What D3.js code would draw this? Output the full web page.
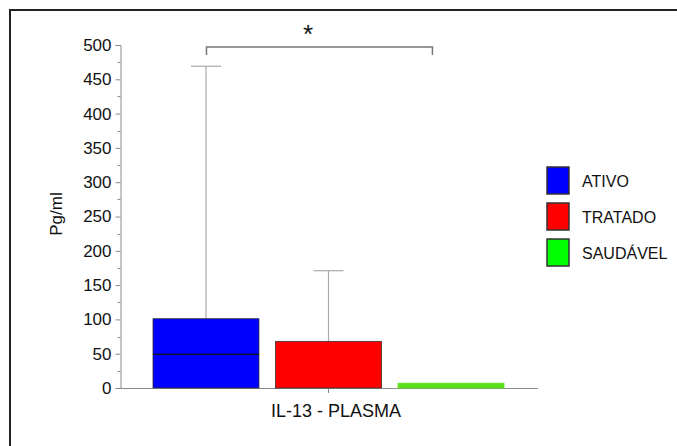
<!DOCTYPE html>
<html>
<head>
<meta charset="utf-8">
<script src="https://cdn.jsdelivr.net/npm/d3@7"></script>
<style>
    body { margin: 0; background: #fff; }
    text { font-family: "Liberation Sans", Arial, sans-serif; fill: #111; }
</style>
</head>
<body>
<div id="chart"></div>
<script>
// IL-13 plasma values (pg/ml)
var groups = ["ATIVO", "TRATADO", "SAUDÁVEL"];
var colors = ["#0000ff", "#ff0000", "#00ff00"];
var barColors = ["#0000ff", "#ff0000", "#5ce01c"];
var upper = [101, 68, 7];
var median = [49, null, null];
var whiskerMax = [469, 171, null];
var yTicks = [0, 50, 100, 150, 200, 250, 300, 350, 400, 450, 500];
var minorTicks = d3.range(25, 500, 50);
var categoryLabel = "IL-13 - PLASMA";
var sigPair = ["ATIVO", "SAUDÁVEL"];

var width = 677, height = 446;

var svg = d3.select("#chart").append("svg")
    .attr("width", width)
    .attr("height", height);

// outer frame
svg.append("rect")
    .attr("x", 10)
    .attr("y", 10)
    .attr("width", 700)
    .attr("height", 500)
    .attr("fill", "none")
    .attr("stroke", "#222")
    .attr("stroke-width", 2);

var y = d3.scaleLinear()
    .domain([0, 500])
    .range([388, 45]);

var x = d3.scaleBand()
    .domain(groups)
    .range([153, 504])
    .paddingInner(0.135);

var axisColor = "#8c8c8c";

// y axis
var yAxis = svg.append("g")
    .attr("transform", "translate(120.5,0)")
    .call(d3.axisLeft(y).tickValues(yTicks).tickSize(5).tickPadding(4));
yAxis.select(".domain").attr("stroke", axisColor);
yAxis.selectAll(".tick line").attr("stroke", axisColor);
yAxis.selectAll(".tick text")
    .style("font-size", "17px")
    .attr("fill", "#111");

svg.append("g")
    .selectAll("line")
    .data(minorTicks)
    .enter().append("line")
    .attr("x1", 117.5)
    .attr("x2", 120.5)
    .attr("y1", function (d) { return Math.round(y(d)) + 0.5; })
    .attr("y2", function (d) { return Math.round(y(d)) + 0.5; })
    .attr("stroke", axisColor);

// x axis line
svg.append("line")
    .attr("x1", 120)
    .attr("x2", 538)
    .attr("y1", y(0) + 0.5)
    .attr("y2", y(0) + 0.5)
    .attr("stroke", axisColor);

var catX = x(groups[1]) + x.bandwidth() / 2;

svg.append("line")
    .attr("x1", catX)
    .attr("x2", catX)
    .attr("y1", y(0))
    .attr("y2", y(0) + 5)
    .attr("stroke", axisColor);

svg.append("text")
    .attr("x", 336)
    .attr("y", 417)
    .attr("text-anchor", "middle")
    .style("font-size", "18px")
    .text(categoryLabel);

svg.append("text")
    .attr("transform", "translate(62,214) rotate(-90)")
    .attr("text-anchor", "middle")
    .style("font-size", "17px")
    .text("Pg/ml");

// whiskers
groups.forEach(function (g, i) {
    if (whiskerMax[i] == null) return;
    var cx = x(g) + x.bandwidth() / 2;
    svg.append("line")
        .attr("x1", cx).attr("x2", cx)
        .attr("y1", y(upper[i])).attr("y2", y(whiskerMax[i]))
        .attr("stroke", "#aaa").attr("stroke-width", 1.2);
    svg.append("line")
        .attr("x1", cx - 15).attr("x2", cx + 15)
        .attr("y1", y(whiskerMax[i])).attr("y2", y(whiskerMax[i]))
        .attr("stroke", "#aaa").attr("stroke-width", 1.2);
});

// boxes
svg.selectAll(".bar")
    .data(groups)
    .enter().append("rect")
    .attr("class", "bar")
    .attr("x", function (d) { return x(d); })
    .attr("y", function (d, i) { return y(upper[i]); })
    .attr("width", x.bandwidth())
    .attr("height", function (d, i) { return y(0) - y(upper[i]); })
    .attr("fill", function (d, i) { return barColors[i]; })
    .attr("stroke", function (d, i) { return i === 2 ? barColors[i] : "#333"; })
    .attr("stroke-width", 0.8);

groups.forEach(function (g, i) {
    if (median[i] == null) return;
    svg.append("line")
        .attr("x1", x(g)).attr("x2", x(g) + x.bandwidth())
        .attr("y1", y(median[i])).attr("y2", y(median[i]))
        .attr("stroke", "#111").attr("stroke-width", 1.2);
});

// significance bracket
var bx1 = x(sigPair[0]) + x.bandwidth() / 2 + 0.5;
var bx2 = x(sigPair[1]) + x.bandwidth() * 0.32 + 0.5;
svg.append("path")
    .attr("d", "M" + bx1 + ",55V47H" + bx2 + "V55")
    .attr("fill", "none")
    .attr("stroke", "#777")
    .attr("stroke-width", 1.5);
svg.append("text")
    .attr("x", 308)
    .attr("y", 43)
    .attr("text-anchor", "middle")
    .style("font-size", "26px")
    .text("*");

// legend
var legend = svg.selectAll(".legend")
    .data(groups)
    .enter().append("g")
    .attr("class", "legend")
    .attr("transform", function (d, i) { return "translate(547," + (167 + i * 36) + ")"; });

legend.append("rect")
    .attr("width", 22)
    .attr("height", 27)
    .attr("fill", function (d, i) { return colors[i]; })
    .attr("stroke", "#333")
    .attr("stroke-width", 1.5);

legend.append("text")
    .attr("x", 35)
    .attr("y", 20)
    .style("font-size", "16px")
    .text(function (d) { return d; });
</script>
</body>
</html>
